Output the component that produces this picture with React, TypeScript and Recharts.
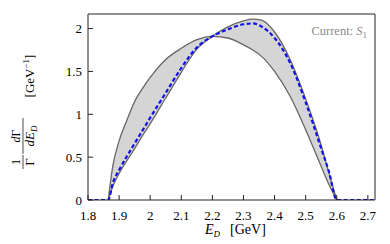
import React from 'react'
import { ComposedChart, Area, Line, XAxis, YAxis } from 'recharts'

// E_D grid (GeV)
const energy = [1.8, 1.865, 1.88, 1.9, 1.925, 1.95, 1.975, 2.0, 2.05, 2.1, 2.15, 2.2, 2.25, 2.3, 2.33, 2.36, 2.4, 2.45, 2.5, 2.55, 2.575, 2.6, 2.72]
// envelope curve peaking early
const edgeA = [null, 0, 0.4, 0.69, 0.93, 1.15, 1.3, 1.43, 1.64, 1.77, 1.87, 1.91, 1.89, 1.81, 1.75, 1.67, 1.5, 1.21, 0.82, 0.39, 0.18, 0, null]
// envelope curve peaking late
const edgeB = [null, 0, 0.16, 0.31, 0.46, 0.6, 0.75, 0.89, 1.19, 1.49, 1.76, 1.91, 2.02, 2.09, 2.11, 2.095, 1.96, 1.64, 1.18, 0.64, 0.31, 0, null]
// central prediction (dashed)
const central = [0, 0, 0.2, 0.35, 0.51, 0.66, 0.81, 0.96, 1.25, 1.54, 1.78, 1.91, 1.99, 2.05, 2.06, 2.02, 1.89, 1.6, 1.14, 0.6, 0.33, 0, 0]

const xTicks = [1.8, 1.9, 2.0, 2.1, 2.2, 2.3, 2.4, 2.5, 2.6, 2.7]
const yTicks = [0, 0.5, 1, 1.5, 2]

const data = energy.map((e, i) => {
  const a = edgeA[i]
  const b = edgeB[i]
  return {
    e,
    a,
    b,
    c: central[i],
    band: a == null || b == null ? null : [Math.min(a, b), Math.max(a, b)],
  }
})

const serif = 'Liberation Serif'

const Labels = () => (
  <g fontFamily={serif} fill="#000">
    {/* y label, rotated */}
    <g transform="rotate(-90)">
      <text x={-162} y={20} fontSize={12} textAnchor="middle">1</text>
      <line x1={-169} x2={-155} y1={23} y2={23} stroke="#000" strokeWidth={0.7} />
      <text x={-162} y={34} fontSize={13} textAnchor="middle">Γ</text>
      <text x={-136} y={20} fontSize={12} textAnchor="middle">
        <tspan fontStyle="italic">d</tspan>Γ
      </text>
      <line x1={-154} x2={-118} y1={23} y2={23} stroke="#000" strokeWidth={0.7} />
      <text x={-136} y={34} fontSize={13} textAnchor="middle">
        <tspan fontStyle="italic">dE</tspan>
        <tspan fontStyle="italic" fontSize={9} dy={3}>D</tspan>
      </text>
      <text x={-76} y={34} fontSize={13} textAnchor="middle">
        [GeV<tspan fontSize={9} dy={-5}>−1</tspan>
        <tspan dy={5}>]</tspan>
      </text>
    </g>
    {/* x label */}
    <text x={205} y={234} fontSize={14}>
      <tspan fontStyle="italic">E</tspan>
      <tspan fontStyle="italic" fontSize={9} dy={3}>D</tspan>
      <tspan dy={-3} dx={10}>[GeV]</tspan>
    </text>
    <text x={367} y={35} fontSize={12.5} textAnchor="end" fill="#8a8a8a">
      Current: <tspan fontStyle="italic">S</tspan>
      <tspan fontSize={9} dy={3}>1</tspan>
    </text>
  </g>
)

export default function App() {
  return (
    <div style={{ width: 390, height: 244 }}>
      <style>{'body{margin:0}'}</style>
      <ComposedChart width={390} height={244} data={data} margin={{ top: 4, right: 5, bottom: 0, left: 0 }}>
        <XAxis
          dataKey="e"
          type="number"
          domain={[1.8, 2.723]}
          ticks={xTicks}
          allowDataOverflow
          height={44}
          tickSize={-5}
          tickMargin={16}
          stroke="#222"
          tick={{ fontFamily: serif, fontSize: 13, fill: '#000' }}
          tickFormatter={(v: number) => String(Math.round(v * 10) / 10)}
        />
        <XAxis
          xAxisId="top"
          orientation="top"
          dataKey="e"
          type="number"
          domain={[1.8, 2.723]}
          ticks={xTicks}
          allowDataOverflow
          height={10}
          tickSize={-5}
          tick={false}
          stroke="#222"
        />
        <YAxis
          type="number"
          domain={[0, 2.17]}
          ticks={yTicks}
          allowDataOverflow
          width={88}
          tickSize={-5}
          tickMargin={11}
          stroke="#222"
          tick={{ fontFamily: serif, fontSize: 13, fill: '#000' }}
        />
        <YAxis
          yAxisId="right"
          orientation="right"
          type="number"
          domain={[0, 2.17]}
          ticks={yTicks}
          allowDataOverflow
          width={10}
          tickSize={-5}
          tick={false}
          stroke="#222"
        />
        <Area
          type="monotone"
          dataKey="band"
          fill="#d5d5d5"
          fillOpacity={1}
          stroke="none"
          isAnimationActive={false}
        />
        <Line type="monotone" dataKey="a" stroke="#666" strokeWidth={1.3} dot={false} isAnimationActive={false} />
        <Line type="monotone" dataKey="b" stroke="#666" strokeWidth={1.3} dot={false} isAnimationActive={false} />
        <Line
          type="monotone"
          dataKey="c"
          stroke="#1010e8"
          strokeWidth={2.2}
          strokeDasharray="4 2.5"
          dot={false}
          isAnimationActive={false}
        />
        <Labels />
      </ComposedChart>
    </div>
  )
}
